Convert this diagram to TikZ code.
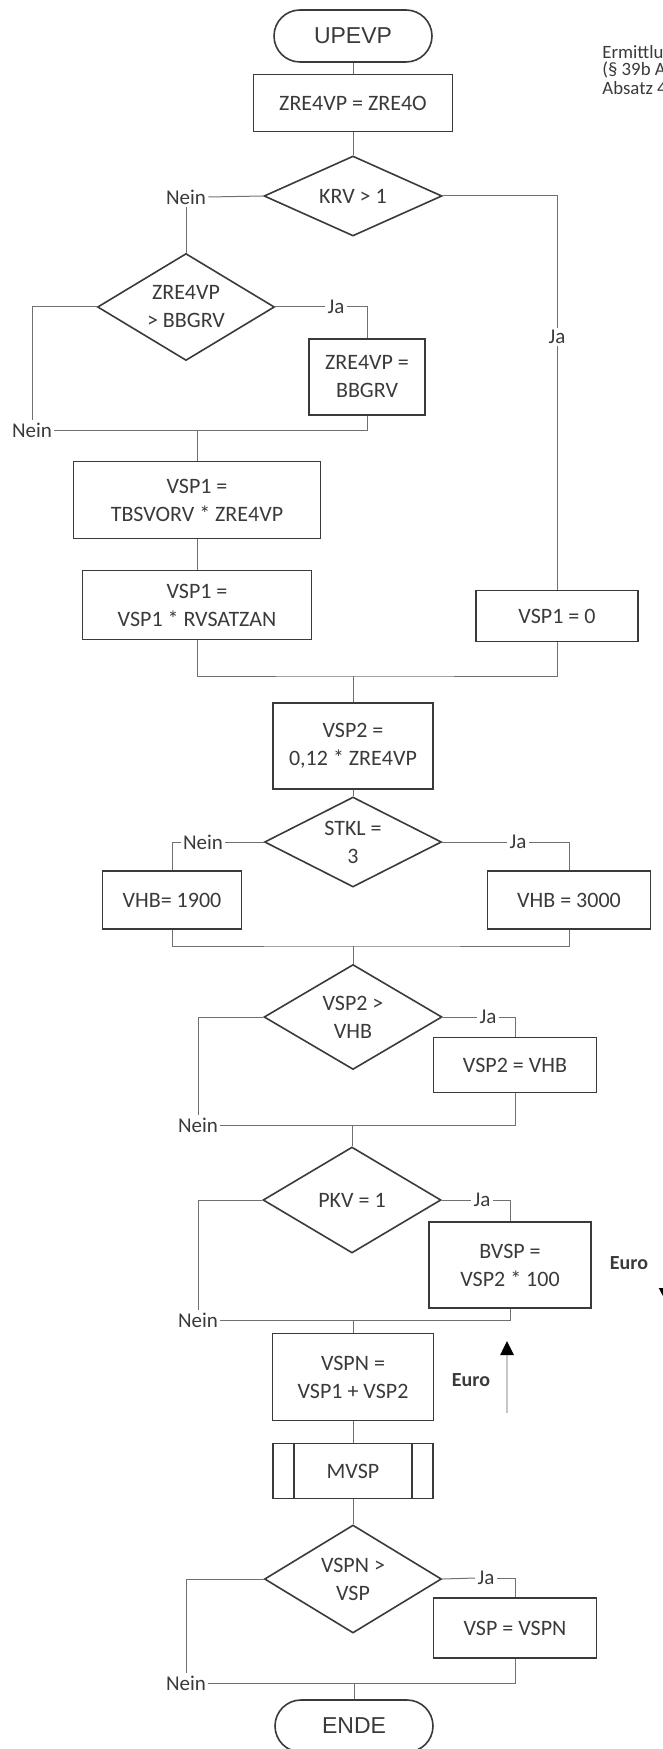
\documentclass[tikz,border=0pt]{standalone}
\usepackage{fontspec}
\setmainfont{Carlito}
\newfontfamily\arialfont{Liberation Sans}
\usetikzlibrary{shapes.geometric, arrows.meta}

\definecolor{boxgray}{HTML}{3A3A3A}
\definecolor{linegray}{HTML}{707070}

\begin{document}
\begin{tikzpicture}[x=0.5pt, y=-0.5pt,
    term/.style={draw=boxgray, line width=0.8pt, rounded corners=13pt, minimum width=79pt, minimum height=26pt, inner sep=0pt, text=boxgray, font=\arialfont\fontsize{11.5}{13}\selectfont},
    proc/.style={draw=boxgray, line width=0.9pt, inner sep=0pt, align=center, text=boxgray, font=\fontsize{11}{14}\selectfont},
    test/.style={diamond, aspect=1.7, draw=boxgray, line width=0.8pt, inner sep=0pt, align=center, text=boxgray, font=\fontsize{11}{14}\selectfont},
    lbl/.style={inner sep=1pt, text=boxgray, font=\fontsize{10.5}{12}\selectfont},
    note/.style={anchor=west, inner sep=0pt, text=boxgray, font=\fontsize{9.4}{11}\selectfont},
    conn/.style={draw=linegray, line width=0.5pt}]
    \useasboundingbox (0,0) rectangle (663,1749);

    % main column
    \node[term] (start) at (353,36) {UPEVP};
    \node[proc, minimum width=99.5pt, minimum height=28.5pt] (zre) at (353,103) {ZRE4VP = ZRE4O};
    \node[test, minimum width=89pt, minimum height=40pt] (krv) at (353,196) {KRV > 1};
    \node[test, minimum width=88.5pt, minimum height=53.5pt] (bbg) at (186,307) {ZRE4VP\\> BBGRV};
    \node[proc, minimum width=58pt, minimum height=38pt] (bbgrv) at (367,377) {ZRE4VP =\\BBGRV};
    \node[proc, minimum width=123.5pt, minimum height=38.5pt] (tbs) at (197,500) {VSP1 =\\TBSVORV * ZRE4VP};
    \node[proc, minimum width=114.5pt, minimum height=34.5pt] (rvs) at (197,605) {VSP1 =\\VSP1 * RVSATZAN};
    \node[proc, minimum width=81pt, minimum height=25.5pt] (vspnull) at (557,616) {VSP1 = 0};
    \node[proc, minimum width=80pt, minimum height=43pt] (vsp2) at (353,746) {VSP2 =\\0,12 * ZRE4VP};
    \node[test, minimum width=88.5pt, minimum height=45pt] (stkl) at (353,842) {STKL =\\3};
    \node[proc, minimum width=69.5pt, minimum height=29pt] (vhbl) at (172,900) {VHB= 1900};
    \node[proc, minimum width=81.5pt, minimum height=29pt] (vhbh) at (569,900) {VHB = 3000};
    \node[test, minimum width=89pt, minimum height=52.5pt] (vhbtest) at (353,1017) {VSP2 >\\VHB};
    \node[proc, minimum width=81.5pt, minimum height=27.5pt] (vhbset) at (515,1065) {VSP2 = VHB};
    \node[test, minimum width=89pt, minimum height=53pt] (pkv) at (352,1200) {PKV = 1};
    \node[proc, minimum width=81pt, minimum height=43pt] (bvsp) at (510,1265) {BVSP =\\VSP2 * 100};
    \node[proc, minimum width=80.5pt, minimum height=43.5pt] (vspn) at (353,1377) {VSPN =\\VSP1 + VSP2};
    \node[proc, minimum width=80pt, minimum height=27.5pt] (mvsp) at (353,1471) {MVSP};
    \node[test, minimum width=88.5pt, minimum height=54pt] (vsptest) at (353,1579) {VSPN >\\VSP};
    \node[proc, minimum width=81.5pt, minimum height=30pt] (vspset) at (515,1628) {VSP = VSPN};
    \node[term] (ende) at (354,1726) {ENDE};
    \foreach \s/\d in {west/11pt, east/-11pt}
        \draw[boxgray, line width=0.9pt] ([xshift=\d]mvsp.north \s) -- ([xshift=\d]mvsp.south \s);

    % branch labels
    \node[lbl] (nein1) at (186,197) {Nein};
    \node[lbl] (ja1) at (557,337) {Ja};
    \node[lbl] (ja2) at (336,307) {Ja};
    \node[lbl] (nein2) at (32,430) {Nein};
    \node[lbl] (nein3) at (203,842) {Nein};
    \node[lbl] (ja3) at (518,842) {Ja};
    \node[lbl] (ja4) at (488,1017) {Ja};
    \node[lbl] (nein4) at (198,1125) {Nein};
    \node[lbl] (ja5) at (482,1200) {Ja};
    \node[lbl] (nein5) at (198,1320) {Nein};
    \node[lbl] (ja6) at (486,1578) {Ja};
    \node[lbl] (nein6) at (186,1683) {Nein};

    % side notes
    \node[note] (notea) at (602,52) {Ermittlu};
    \node[note] (noteb) at (602,70) {(§ 39b A};
    \node[note] (notec) at (602,88) {Absatz 4};
    \node[text=boxgray, font=\bfseries\fontsize{10}{12}\selectfont] (euroa) at (629,1263) {Euro};
    \node[text=boxgray, font=\bfseries\fontsize{10}{12}\selectfont] (eurob) at (471,1380) {Euro};
    \coordinate (upa) at (507,1413);
    \coordinate (upb) at (507,1341);
    \coordinate (dna) at (666,1270);
    \coordinate (dnb) at (666,1302);
    \draw[gray!45, line width=1.3pt, -{Triangle[color=black, width=6.5pt, length=7pt]}] (upa) -- (upb);
    \draw[black, line width=1pt, -{Triangle[width=7pt, length=7pt]}] (dna) -- (dnb);

    % connectors
    \foreach \a/\b in {start/zre, zre/krv, tbs/rvs, vsp2/stkl, vspn/mvsp, mvsp/vsptest}
        \draw[conn] (\a.south) -- (\b.north);
    \draw[conn] (krv.west) -- (nein1.east);
    \draw[conn] (nein1.south) -- (bbg.north);
    \draw[conn] (krv.east) -| (ja1.north);
    \draw[conn] (ja1.south) -- (vspnull.north);
    \draw[conn] (bbg.east) -- (ja2.west);
    \draw[conn] (ja2.east) -| (bbgrv.north);
    \draw[conn] (bbg.west) -| (nein2.north);
    \draw[conn] (nein2.east) -| (bbgrv.south);
    \draw[conn] (nein2.east -| tbs.north) -- (tbs.north);
    \coordinate (joina) at (353,676);
    \draw[conn] (rvs.south) |- (joina) -| (vspnull.south);
    \draw[conn] (joina) -- (vsp2.north);
    \draw[conn] (stkl.west) -- (nein3.east);
    \draw[conn] (nein3.west) -| (vhbl.north);
    \draw[conn] (stkl.east) -- (ja3.west);
    \draw[conn] (ja3.east) -| (vhbh.north);
    \coordinate (joinb) at (353,946);
    \draw[conn] (vhbl.south) |- (joinb) -| (vhbh.south);
    \draw[conn] (joinb) -- (vhbtest.north);
    \draw[conn] (vhbtest.east) -- (ja4.west);
    \draw[conn] (ja4.east) -| (vhbset.north);
    \draw[conn] (vhbtest.west) -| (nein4.north);
    \draw[conn] (nein4.east) -| (vhbset.south);
    \draw[conn] (nein4.east -| pkv.north) -- (pkv.north);
    \draw[conn] (pkv.east) -- (ja5.west);
    \draw[conn] (ja5.east) -| (bvsp.north);
    \draw[conn] (pkv.west) -| (nein5.north);
    \draw[conn] (nein5.east) -| (bvsp.south);
    \draw[conn] (nein5.east -| vspn.north) -- (vspn.north);
    \draw[conn] (vsptest.east) -- (ja6.west);
    \draw[conn] (ja6.east) -| (vspset.north);
    \draw[conn] (vsptest.west) -| (nein6.north);
    \draw[conn] (nein6.east) -| (vspset.south);
    \draw[conn] (nein6.east -| ende.north) -- (ende.north);
\end{tikzpicture}
\end{document}
